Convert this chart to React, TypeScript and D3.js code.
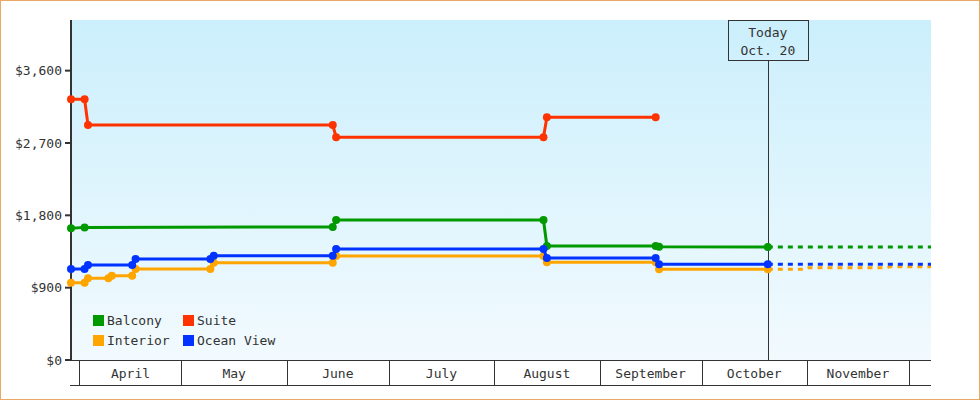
import React from "react";
import * as d3 from "d3";

const W = 980;
const H = 400;

const months = ["April", "May", "June", "July", "August", "September", "October", "November"];
const monthStarts = ["2023-04-01", "2023-05-01", "2023-06-01", "2023-07-01", "2023-08-01", "2023-09-01", "2023-10-01", "2023-11-01", "2023-12-01"];
const yTicks = [0, 900, 1800, 2700, 3600];

const seriesNames = ["Balcony", "Suite", "Interior", "Ocean View"];
const seriesColors = ["#009900", "#FF3300", "#FFA500", "#0033FF"];

const balconyDates = ["2023-03-29", "2023-04-02", "2023-06-14", "2023-06-15", "2023-08-15", "2023-08-16", "2023-09-17", "2023-09-18", "2023-10-20"];
const balconyValues = [1639, 1650, 1655, 1742, 1742, 1419, 1419, 1410, 1405];

const suiteDates = ["2023-03-29", "2023-04-02", "2023-04-03", "2023-06-14", "2023-06-15", "2023-08-15", "2023-08-16", "2023-09-17"];
const suiteValues = [3244, 3244, 2924, 2924, 2771, 2771, 3020, 3020];

const interiorDates = ["2023-03-29", "2023-04-02", "2023-04-03", "2023-04-09", "2023-04-10", "2023-04-16", "2023-04-17", "2023-05-09", "2023-05-10", "2023-06-14", "2023-06-15", "2023-08-15", "2023-08-16", "2023-09-17", "2023-09-18", "2023-10-20"];
const interiorValues = [962, 962, 1017, 1017, 1049, 1049, 1132, 1132, 1211, 1211, 1294, 1294, 1216, 1216, 1129, 1129];

const oceanDates = ["2023-03-29", "2023-04-02", "2023-04-03", "2023-04-16", "2023-04-17", "2023-05-09", "2023-05-10", "2023-06-14", "2023-06-15", "2023-08-15", "2023-08-16", "2023-09-17", "2023-09-18", "2023-10-20"];
const oceanValues = [1132, 1132, 1182, 1182, 1257, 1257, 1298, 1298, 1381, 1381, 1269, 1269, 1191, 1191];

// Projections (dashed, after today)
const balconyProjDates = ["2023-10-20", "2023-12-07"];
const balconyProjValues = [1405, 1405];
const interiorProjDates = ["2023-10-20", "2023-10-31", "2023-11-01", "2023-11-24", "2023-11-25", "2023-12-07"];
const interiorProjValues = [1129, 1129, 1149, 1149, 1161, 1161];
const oceanProjDates = ["2023-10-20", "2023-12-07"];
const oceanProjValues = [1191, 1191];

const todayDate = "2023-10-20";
const todayLabel = ["Today", "Oct. 20"];

const FONT = "'DejaVu Sans Mono', monospace";
const TEXT = "#333333";

const noon = (s: string) => new Date(s + "T12:00:00");
const midnight = (s: string) => new Date(s + "T00:00:00");

type Pt = { d: Date; v: number };
const zip = (ds: string[], vs: number[]): Pt[] => ds.map((d, i) => ({ d: noon(d), v: vs[i] }));

export default function App() {
  const left = 71;
  const right = 931;
  const top = 20;
  const bottom = 360;

  const x = d3.scaleTime().domain([noon("2023-03-29"), noon("2023-12-07")]).range([left, right]);
  const y = d3.scaleLinear().domain([0, 4230]).range([bottom, top]);

  const line = d3
    .line<Pt>()
    .x((p) => x(p.d))
    .y((p) => y(p.v));

  const solid = [
    { name: "Balcony", color: seriesColors[0], pts: zip(balconyDates, balconyValues) },
    { name: "Suite", color: seriesColors[1], pts: zip(suiteDates, suiteValues) },
    { name: "Interior", color: seriesColors[2], pts: zip(interiorDates, interiorValues) },
    { name: "Ocean View", color: seriesColors[3], pts: zip(oceanDates, oceanValues) },
  ];
  const dashed = [
    { color: seriesColors[0], pts: zip(balconyProjDates, balconyProjValues) },
    { color: seriesColors[2], pts: zip(interiorProjDates, interiorProjValues) },
    { color: seriesColors[3], pts: zip(oceanProjDates, oceanProjValues) },
  ];
  const drawOrder = [1, 0, 2, 3];

  const starts = monthStarts.map(midnight);
  const tx = x(noon(todayDate));

  return (
    <svg width={W} height={H} style={{ position: "absolute", left: 0, top: 0, display: "block" }}>
      <defs>
        <linearGradient id="bg" x1="0" y1="0" x2="0" y2="1">
          <stop offset="0" stopColor="#CBEFFC" />
          <stop offset="1" stopColor="#F2FAFE" />
        </linearGradient>
      </defs>
      <rect x={0} y={0} width={W} height={H} fill="#ffffff" />
      <rect x={0.5} y={0.5} width={W - 1} height={H - 1} fill="none" stroke="#E9A964" />
      <rect x={left} y={top} width={right - left} height={bottom - top} fill="url(#bg)" />

      {/* Y axis */}
      <line x1={left} x2={left} y1={top} y2={bottom + 1} stroke={TEXT} strokeWidth={2} />
      {yTicks.map((t) => (
        <g key={t}>
          <line x1={65} x2={left} y1={y(t)} y2={y(t)} stroke={TEXT} strokeWidth={2} />
          <text x={62} y={y(t)} dy="0.35em" textAnchor="end" fontFamily={FONT} fontSize={13} fill={TEXT}>
            {d3.format("$,")(t)}
          </text>
        </g>
      ))}

      {/* X axis band */}
      <line x1={left - 1} x2={right} y1={bottom + 0.5} y2={bottom + 0.5} stroke={TEXT} strokeWidth={1} />
      <line x1={left - 1} x2={right} y1={385.5} y2={385.5} stroke={TEXT} strokeWidth={1} />
      {starts.map((s, i) => (
        <line key={i} x1={Math.round(x(s)) + 0.5} x2={Math.round(x(s)) + 0.5} y1={bottom} y2={385} stroke={TEXT} strokeWidth={1} />
      ))}
      {months.map((m, i) => (
        <text key={m} x={(x(starts[i]) + x(starts[i + 1])) / 2} y={378} textAnchor="middle" fontFamily={FONT} fontSize={13} fill={TEXT}>
          {m}
        </text>
      ))}

      {/* Today marker */}
      <line x1={Math.round(tx) + 0.5} x2={Math.round(tx) + 0.5} y1={top + 40} y2={bottom} stroke={TEXT} strokeWidth={1} />
      <rect x={Math.round(tx) - 39.5} y={top + 0.5} width={80} height={40} fill="none" stroke={TEXT} strokeWidth={1} />
      <text x={tx} y={37} textAnchor="middle" fontFamily={FONT} fontSize={13} fill={TEXT}>
        {todayLabel[0]}
      </text>
      <text x={tx} y={55} textAnchor="middle" fontFamily={FONT} fontSize={13} fill={TEXT}>
        {todayLabel[1]}
      </text>

      {/* Dashed projections */}
      {dashed.map((s, i) => (
        <path key={"d" + i} d={line(s.pts) || ""} fill="none" stroke={s.color} strokeWidth={3} strokeDasharray="5,5" />
      ))}

      {/* Solid series */}
      {drawOrder.map((k) => {
        const s = solid[k];
        return (
          <g key={s.name}>
            <path d={line(s.pts) || ""} fill="none" stroke={s.color} strokeWidth={3} strokeLinejoin="round" />
            {s.pts.map((p, j) => (
              <circle key={j} cx={x(p.d)} cy={y(p.v)} r={4} fill={s.color} />
            ))}
          </g>
        );
      })}

      {/* Legend */}
      {seriesNames.map((n, i) => {
        const col = i % 2;
        const row = Math.floor(i / 2);
        const lx = 93 + col * 90;
        const ly = 315 + row * 20;
        return (
          <g key={n}>
            <rect x={lx} y={ly} width={11} height={11} fill={seriesColors[i]} />
            <text x={lx + 14} y={ly + 10} fontFamily={FONT} fontSize={13} fill={TEXT}>
              {n}
            </text>
          </g>
        );
      })}
    </svg>
  );
}
